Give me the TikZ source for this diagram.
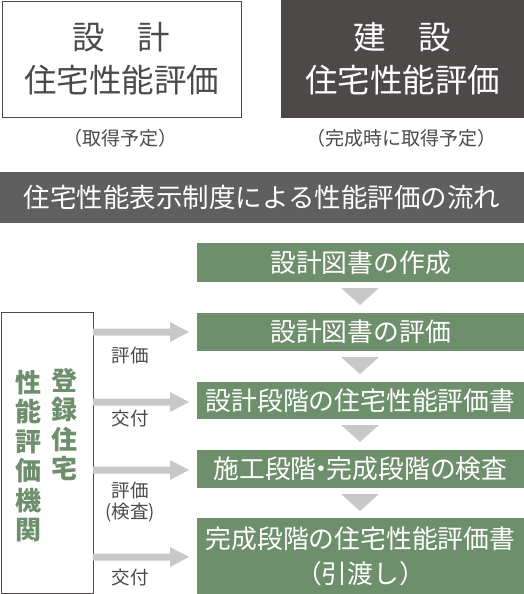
\documentclass[tikz,border=0pt]{standalone}
\usepackage{fontspec}
\setmainfont{Noto Sans CJK JP}
\definecolor{dk}{HTML}{4D4948}
\definecolor{bn}{HTML}{5F5F5F}
\definecolor{gr}{HTML}{6E8F6C}
\definecolor{ar}{HTML}{C8C8C8}
\begin{document}
\begin{tikzpicture}[x=1pt,y=-1pt,
  gbox/.style={fill=gr,draw=none},
  gtext/.style={text=white,font=\fontsize{25.8}{30}\selectfont,align=center,inner sep=0pt},
  tri/.style={fill=ar,draw=none},
  lbl/.style={text=dk,font=\fontsize{18.5}{20}\selectfont,align=center,inner sep=0pt},
  captext/.style={text=dk,font=\fontsize{19}{20}\selectfont,inner sep=0pt},
  vt/.style={text=gr,font=\bfseries\fontsize{26}{29.5}\selectfont,align=center,inner sep=0pt}]
\useasboundingbox (0,0) rectangle (524,594);
% top boxes
\draw[dk,line width=1pt] (2,1.5) rectangle (241,117);
\node[text=dk,font=\fontsize{32.5}{43}\selectfont,align=center,inner sep=0pt] (t1) at (121.5,59) {設\hspace{1em}計\\住宅性能評価};
\fill[dk] (281,0) rectangle (524,118);
\node[text=white,font=\fontsize{32.5}{43}\selectfont,align=center,inner sep=0pt] (t2) at (402.5,59) {建\hspace{1em}設\\住宅性能評価};
\node[captext] (c1) at (120,138) {（取得予定）};
\node[captext] (c2) at (401,138) {（完成時に取得予定）};
% banner
\fill[bn] (0,172) rectangle (524,223);
\node[text=white,font=\fontsize{26.5}{30}\selectfont,inner sep=0pt] (bt) at (262,197.5) {住宅性能表示制度による性能評価の流れ};
% green boxes
\fill[gbox] (197,243) rectangle (524,282);
\node[gtext] (g1) at (360.5,262.5) {設計図書の作成};
\fill[gbox] (197,313) rectangle (524,351);
\node[gtext] (g2) at (360.5,332) {設計図書の評価};
\fill[gbox] (197,382) rectangle (524,419);
\node[gtext] (g3) at (360.5,400.5) {設計段階の住宅性能評価書};
\fill[gbox] (197,450) rectangle (524,488);
\node[gtext] (g4) at (360.5,469) {施工段階\kern-0.3em・\kern-0.3em完成段階の検査};
\fill[gbox] (197,518) rectangle (524,594);
\node[gtext,font=\fontsize{25.8}{35}\selectfont] (g5) at (360.5,556) {完成段階の住宅性能評価書\\（引渡し）};
% triangles
\foreach \ya in {288,357,425,494}{
  \fill[tri] (341,\ya) -- (379,\ya) -- (360,\ya+17) -- cycle;
}
% left box
\draw[dk,line width=1pt] (1.5,312) rectangle (93,593);
\node[vt] (v1) at (64,424.5) {登\\録\\住\\宅};
\node[vt] (v2) at (28,456) {性\\能\\評\\価\\機\\関};
% arrows
\foreach \ya in {332,402,470,557}{
  \fill[ar] (93,\ya-3.5) -- (170,\ya-3.5) -- (170,\ya-10) -- (189,\ya) -- (170,\ya+10) -- (170,\ya+3.5) -- (93,\ya+3.5) -- cycle;
}
\node[lbl] (l1) at (130,355) {評価};
\node[lbl] (l2) at (130,418) {交付};
\node[lbl,font=\fontsize{18.5}{21}\selectfont] (l3) at (130,502.5) {評価\\(検査)};
\node[lbl] (l4) at (130,577) {交付};
\end{tikzpicture}
\end{document}
